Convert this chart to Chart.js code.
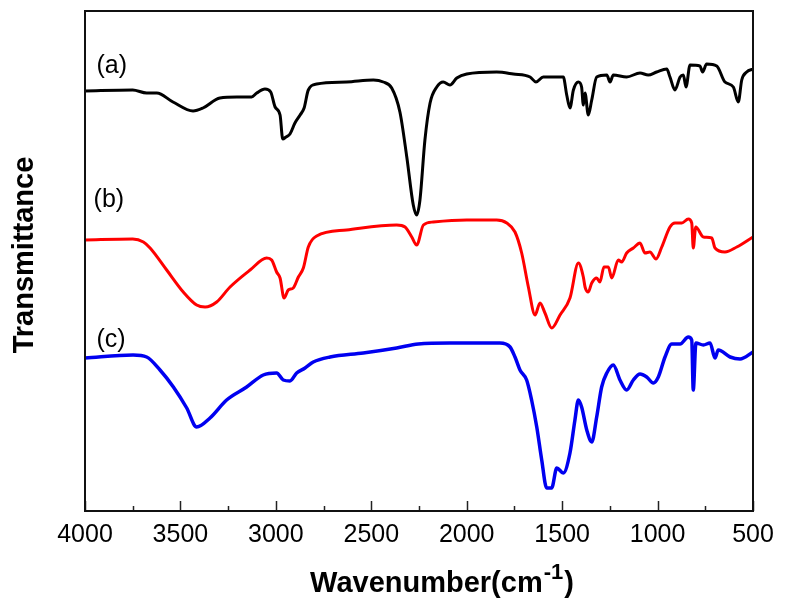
<!DOCTYPE html>
<html>
<head>
<meta charset="utf-8">
<script src="https://cdn.jsdelivr.net/npm/chart.js@4.4.1/dist/chart.umd.min.js"></script>
<style>
body{margin:0;background:#fff;}
</style>
</head>
<body>
<canvas id="myChart" width="785" height="609"></canvas>
<script>
// wavenumbers (cm-1) and transmittance (arb. units)
const waveA = [4000,3750,3677,3624,3539,3434,3382,3293,3204,3127,3100,3057,3027,3004,2978,2964,2947,2926,2900,2873,2852,2830,2786,2629,2489,2437,2393,2350,2314,2280,2262,2245,2219,2192,2157,2123,2088,2052,2000,1843,1756,1668,1637,1599,1494,1476,1459,1441,1415,1398,1389,1380,1363,1345,1319,1266,1249,1232,1162,1092,1049,1005,952,935,909,882,865,851,830,778,764,743,690,647,603,577,559,533,500];
const transA = [420,421,418,418,409,400,403,413,414,414,418,422,419,404,396,372,374,377,388,396,403,421,427,429,431,429,423,399,354,306,296,311,371,408,424,429,426,433,437,439,437,434,429,434,434,416,403,421,429,424,406,418,396,411,434,436,429,436,434,438,436,439,442,434,421,434,436,424,446,445,439,447,445,429,424,409,431,439,442];

const waveB = [4000,3750,3694,3659,3572,3485,3415,3371,3310,3240,3135,3048,3022,2996,2978,2957,2935,2909,2882,2856,2830,2786,2629,2367,2323,2288,2262,2227,2175,2000,1843,1790,1747,1712,1677,1642,1616,1590,1555,1511,1459,1415,1389,1380,1363,1345,1319,1302,1281,1258,1240,1206,1188,1162,1127,1092,1066,1040,1008,978,935,909,873,839,821,813,800,760,716,699,647,585,500];
const transB = [271,272,269,263,241,219,206,204,209,224,241,253,251,239,233,213,221,223,234,243,264,275,281,286,284,274,266,286,289,291,291,288,279,258,224,196,208,198,183,196,213,248,234,224,219,228,233,229,244,244,233,251,249,258,263,268,258,259,252,264,284,288,288,292,288,263,284,274,273,263,259,264,274];

const waveC = [4000,3748,3677,3607,3537,3467,3415,3345,3258,3153,3066,2996,2961,2926,2891,2847,2804,2716,2542,2367,2254,2088,1826,1773,1747,1721,1686,1660,1633,1607,1581,1555,1528,1494,1459,1433,1415,1398,1371,1345,1319,1293,1266,1232,1197,1162,1127,1092,1057,1022,996,961,926,882,839,821,813,799,760,725,699,682,620,568,500];
const transC = [153,156,154,141,124,103,84,93,111,124,136,138,131,130,138,143,149,154,158,163,167,168,168,164,154,141,131,111,84,51,23,23,43,38,58,91,111,104,81,69,94,124,138,146,131,121,131,137,134,128,134,154,167,167,174,171,121,168,166,168,153,161,154,152,159];

const majorTicks = [4000,3500,3000,2500,2000,1500,1000,500];
const minorTicks = [3750,3250,2750,2250,1750,1250,750];

// curve labels, placed in data units
const curveNames = ['(a)','(b)','(c)'];
const curveLabelX = [3940,3955,3940];
const curveLabelY = [438,304,164];

function pairs(xs, ys){
    return xs.map((x,i)=>({x:x, y:ys[i]}));
}

const decor = {
    id: 'decor',
    afterDraw(chart){
        const ctx = chart.ctx;
        const a = chart.chartArea;
        const xs = chart.scales.x, ys = chart.scales.y;
        ctx.save();
        // ticks pointing inward
        ctx.strokeStyle = '#222';
        ctx.lineWidth = 1.5;
        majorTicks.forEach(w=>{
            const x = Math.round(xs.getPixelForValue(w))+0.5;
            ctx.beginPath(); ctx.moveTo(x,a.bottom); ctx.lineTo(x,a.bottom-10); ctx.stroke();
        });
        minorTicks.forEach(w=>{
            const x = Math.round(xs.getPixelForValue(w))+0.5;
            ctx.beginPath(); ctx.moveTo(x,a.bottom); ctx.lineTo(x,a.bottom-5); ctx.stroke();
        });
        // frame
        ctx.lineWidth = 2;
        ctx.strokeStyle = '#111';
        ctx.strokeRect(a.left, a.top, a.right-a.left, a.bottom-a.top);

        // curve labels
        ctx.fillStyle = '#000';
        ctx.font = '25px "Liberation Sans", Arial, sans-serif';
        ctx.textAlign = 'left';
        ctx.textBaseline = 'alphabetic';
        curveNames.forEach((t,i)=>{
            ctx.fillText(t, xs.getPixelForValue(curveLabelX[i]), ys.getPixelForValue(curveLabelY[i]));
        });

        // x title with superscript
        const big = 'bold 29px "Liberation Sans", Arial, sans-serif';
        const sup = 'bold 22px "Liberation Sans", Arial, sans-serif';
        ctx.font = big;
        const w1 = ctx.measureText('Wavenumber(cm').width;
        const w3 = ctx.measureText(')').width;
        ctx.font = sup;
        const w2 = ctx.measureText('-1').width;
        let x0 = 441 - (w1+w2+w3)/2;
        const base = 592;
        ctx.font = big;
        ctx.fillText('Wavenumber(cm', x0, base);
        ctx.font = sup;
        ctx.fillText('-1', x0+w1+1, base-13);
        ctx.font = big;
        ctx.fillText(')', x0+w1+w2+2, base);

        // y title
        ctx.translate(33, 255);
        ctx.rotate(-Math.PI/2);
        ctx.textAlign = 'center';
        ctx.font = big;
        ctx.fillText('Transmittance', 0, 0);
        ctx.restore();
    }
};

const ctx = document.getElementById('myChart').getContext('2d');
const myChart = new Chart(ctx, {
    type: 'line',
    data: {
        datasets: [
            {label:'(a)', data: pairs(waveA,transA), borderColor:'#000000', borderWidth:3},
            {label:'(b)', data: pairs(waveB,transB), borderColor:'#ff0000', borderWidth:3},
            {label:'(c)', data: pairs(waveC,transC), borderColor:'#0000f0', borderWidth:3.5}
        ]
    },
    options: {
        responsive: false,
        animation: false,
        events: [],
        layout: {padding: {left:85, right:32, top:11, bottom:0}},
        elements: {
            point: {radius:0},
            line: {cubicInterpolationMode:'monotone', fill:false}
        },
        plugins: {legend:{display:false}, tooltip:{enabled:false}},
        scales: {
            x: {
                type: 'linear',
                reverse: true,
                min: 500,
                max: 4000,
                afterBuildTicks(scale){ scale.ticks = majorTicks.map(v=>({value:v})); },
                afterFit(scale){ scale.height = 98; },
                grid: {display:false, drawTicks:false},
                border: {display:false},
                ticks: {
                    color:'#000',
                    padding: 9,
                    maxRotation: 0,
                    autoSkip: false,
                    callback: (v)=>String(v),
                    font: {family:'"Liberation Sans", Arial, sans-serif', size:25}
                }
            },
            y: {
                display: false,
                min: 0,
                max: 500
            }
        }
    },
    plugins: [decor]
});
</script>
</body>
</html>
